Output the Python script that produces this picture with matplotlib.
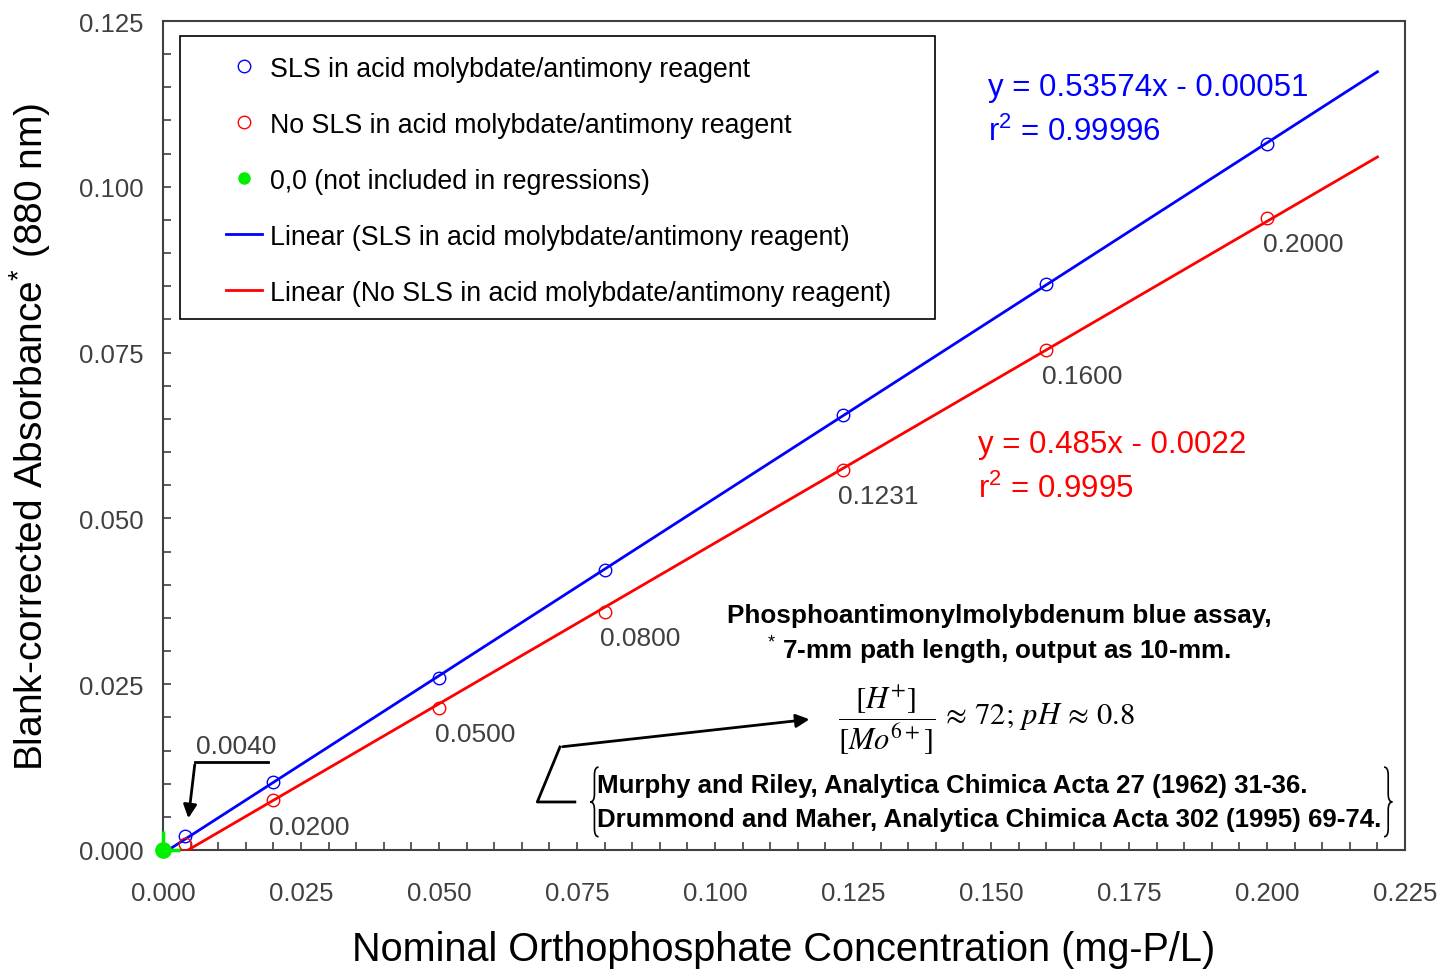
import matplotlib
matplotlib.use("Agg")
import matplotlib.pyplot as plt
from matplotlib.path import Path
from matplotlib.patches import PathPatch, Rectangle
from matplotlib.ticker import MultipleLocator

plt.rcParams['font.family'] = ['Liberation Sans', 'DejaVu Sans']
plt.rcParams['mathtext.fontset'] = 'custom'
plt.rcParams['mathtext.rm'] = 'Liberation Sans'
plt.rcParams['mathtext.it'] = 'Liberation Sans:italic'
plt.rcParams['mathtext.bf'] = 'Liberation Sans:bold'

# nominal concentrations (mg-P/L)
conc = [0.0040, 0.0200, 0.0500, 0.0800, 0.1231, 0.1600, 0.2000]
conc_labels = ["0.0040", "0.0200", "0.0500", "0.0800", "0.1231", "0.1600", "0.2000"]
# blank-corrected absorbance
abs_sls = [0.0021, 0.0102, 0.0259, 0.0422, 0.0656, 0.0853, 0.1065]
abs_nosls = [0.0009, 0.0075, 0.0214, 0.0359, 0.0573, 0.0754, 0.0953]

# origin point and its (one-sided) error bars
origin_x, origin_y = [0.0], [0.0]
origin_xerr = [[0.0], [0.003]]
origin_yerr = [[0.0], [0.0028]]

# regression results
sls_slope, sls_icpt, sls_r2 = 0.53574, -0.00051, "0.99996"
nosls_slope, nosls_icpt, nosls_r2 = 0.485, -0.0022, "0.9995"
fit_xmax = 0.22

gray = "#404040"

fig = plt.figure(figsize=(14.43, 9.70), dpi=100)
ax = fig.add_axes([0.113, 0.1227, 0.8607, 0.8546])

ax.set_xlim(0, 0.225)
ax.set_ylim(0, 0.125)
ax.xaxis.set_major_locator(MultipleLocator(0.025))
ax.xaxis.set_minor_locator(MultipleLocator(0.005))
ax.yaxis.set_major_locator(MultipleLocator(0.025))
ax.yaxis.set_minor_locator(MultipleLocator(0.005))
ax.xaxis.set_major_formatter(plt.FormatStrFormatter("%.3f"))
ax.yaxis.set_major_formatter(plt.FormatStrFormatter("%.3f"))
ax.tick_params(which="both", direction="in", length=6, width=1.2, color=gray,
               labelsize=18.5, labelcolor=gray)
ax.tick_params(axis="x", which="major", pad=22)
ax.tick_params(axis="y", which="major", pad=14)
for s in ax.spines.values():
    s.set_color(gray)
    s.set_linewidth(1.5)

# fitted lines, drawn from the x-intercept out to fit_xmax
for slope, icpt, col in [(sls_slope, sls_icpt, "blue"), (nosls_slope, nosls_icpt, "red")]:
    x0 = -icpt / slope
    ax.plot([x0, fit_xmax], [slope * x0 + icpt, slope * fit_xmax + icpt],
            color=col, lw=2.0, zorder=3)

ax.plot(conc, abs_sls, ls="none", marker="o", ms=9, mfc="none", mec="blue", mew=1.0, zorder=4)
ax.plot(conc, abs_nosls, ls="none", marker="o", ms=9, mfc="none", mec="red", mew=1.0, zorder=4)

eb = ax.errorbar(origin_x, origin_y, xerr=origin_xerr, yerr=origin_yerr, fmt="none",
                 ecolor="#00ee00", elinewidth=2.5, zorder=5)
for c in eb.lines[2]:
    c.set_clip_on(False)
ax.plot(origin_x, origin_y, ls="none", marker="o", ms=11, color="#00ee00", clip_on=False, zorder=6)

# x-value labels beside the red points
for xv, yv, lab in zip(conc[1:], abs_nosls[1:], conc_labels[1:]):
    ax.annotate(lab, (xv, yv), xytext=(-3, -19), textcoords="offset points",
                ha="left", va="center", fontsize=19, color=gray)

# lowest standard gets a pointer
ax.plot([0.0190, 0.0058], [0.01327, 0.01327], color="black", lw=2)
ax.annotate("", xy=(0.00453, 0.00437), xytext=(0.0058, 0.01327),
            arrowprops=dict(arrowstyle="-|>", color="black", lw=2, mutation_scale=20))
ax.text(0.0060, 0.0157, conc_labels[0], fontsize=19, color=gray, ha="left", va="center")

# regression equations
ax.text(0.1495, 0.1151, f"y = {sls_slope}x - {abs(sls_icpt):.5f}", color="blue", fontsize=22.5, va="center")
ax.text(0.1495, 0.1083, f"r$^2$ = {sls_r2}", color="blue", fontsize=22.5, va="center")
ax.text(0.1476, 0.0612, f"y = {nosls_slope}x - {abs(nosls_icpt):.4f}", color="red", fontsize=22.5, va="center")
ax.text(0.1476, 0.0546, f"r$^2$ = {nosls_r2}", color="red", fontsize=22.5, va="center")

# assay notes
ax.text(0.1515, 0.0354, "Phosphoantimonylmolybdenum blue assay,", fontsize=18.8,
        fontweight="bold", ha="center", va="center")
ax.text(0.1515, 0.0302, r"$^{*}$ 7-mm path length, output as 10-mm.", fontsize=18.8,
        fontweight="bold", ha="center", va="center")
ax.text(0.1223, 0.0197, r"$\dfrac{[H^{+}]}{[Mo^{6+}]}\,\approx\,72;\,pH\,\approx\,0.8$",
        fontsize=22, math_fontfamily="stix", ha="left", va="center")
ax.text(0.0786, 0.0098, "Murphy and Riley, Analytica Chimica Acta 27 (1962) 31-36.",
        fontsize=18.6, fontweight="bold", ha="left", va="center")
ax.text(0.0786, 0.00467, "Drummond and Maher, Analytica Chimica Acta 302 (1995) 69-74.",
        fontsize=18.6, fontweight="bold", ha="left", va="center")


def brace(xa, xt, y0, y1, r=0.0012):
    xc = (xa + xt) / 2
    ym = (y0 + y1) / 2
    verts = [(xa, y1), (xc, y1), (xc, y1 - r), (xc, ym + r), (xc, ym), (xt, ym),
             (xc, ym), (xc, ym - r), (xc, y0 + r), (xc, y0), (xa, y0)]
    codes = [Path.MOVETO, Path.CURVE3, Path.CURVE3, Path.LINETO, Path.CURVE3, Path.CURVE3,
             Path.CURVE3, Path.CURVE3, Path.LINETO, Path.CURVE3, Path.CURVE3]
    ax.add_patch(PathPatch(Path(verts, codes), fc="none", ec="black", lw=1.2))


brace(0.0789, 0.0774, 0.0020, 0.0125)
brace(0.2212, 0.2227, 0.0020, 0.0125)

# connector from the references up to the ratio
ax.plot([0.0746, 0.0678, 0.0719], [0.00724, 0.00724, 0.01553], color="black", lw=2)
ax.annotate("", xy=(0.1176, 0.01975), xytext=(0.0719, 0.01553),
            arrowprops=dict(arrowstyle="-|>", color="black", lw=2, mutation_scale=20))

ax.set_xlabel("Nominal Orthophosphate Concentration (mg-P/L)", fontsize=28.5, labelpad=18)
ax.set_ylabel("Blank-corrected Absorbance$^{*}$ (880 nm)", fontsize=28, labelpad=19)

# legend (frame drawn separately so the handles can sit further in)
ax.add_patch(Rectangle((0.0137, 0.6405), 0.6079, 0.3414, transform=ax.transAxes,
                       fc="white", ec="black", lw=1.2, zorder=7))
h1, = ax.plot([], [], ls="none", marker="o", ms=9, mfc="none", mec="blue", mew=1.0)
h2, = ax.plot([], [], ls="none", marker="o", ms=9, mfc="none", mec="red", mew=1.0)
h3, = ax.plot([], [], ls="none", marker="o", ms=8, color="#00ee00")
h4, = ax.plot([], [], color="blue", lw=2)
h5, = ax.plot([], [], color="red", lw=2)
leg = ax.legend([h1, h2, h3, h4, h5],
                ["SLS in acid molybdate/antimony reagent",
                 "No SLS in acid molybdate/antimony reagent",
                 "0,0 (not included in regressions)",
                 "Linear (SLS in acid molybdate/antimony reagent)",
                 "Linear (No SLS in acid molybdate/antimony reagent)"],
                loc="upper left", bbox_to_anchor=(0.0507, 0.9583), fontsize=19.3,
                frameon=False, labelspacing=1.12, handlelength=1.35, handletextpad=0.3,
                borderpad=0, borderaxespad=0)
leg.set_zorder(8)

fig.savefig("out.png", dpi=100)
